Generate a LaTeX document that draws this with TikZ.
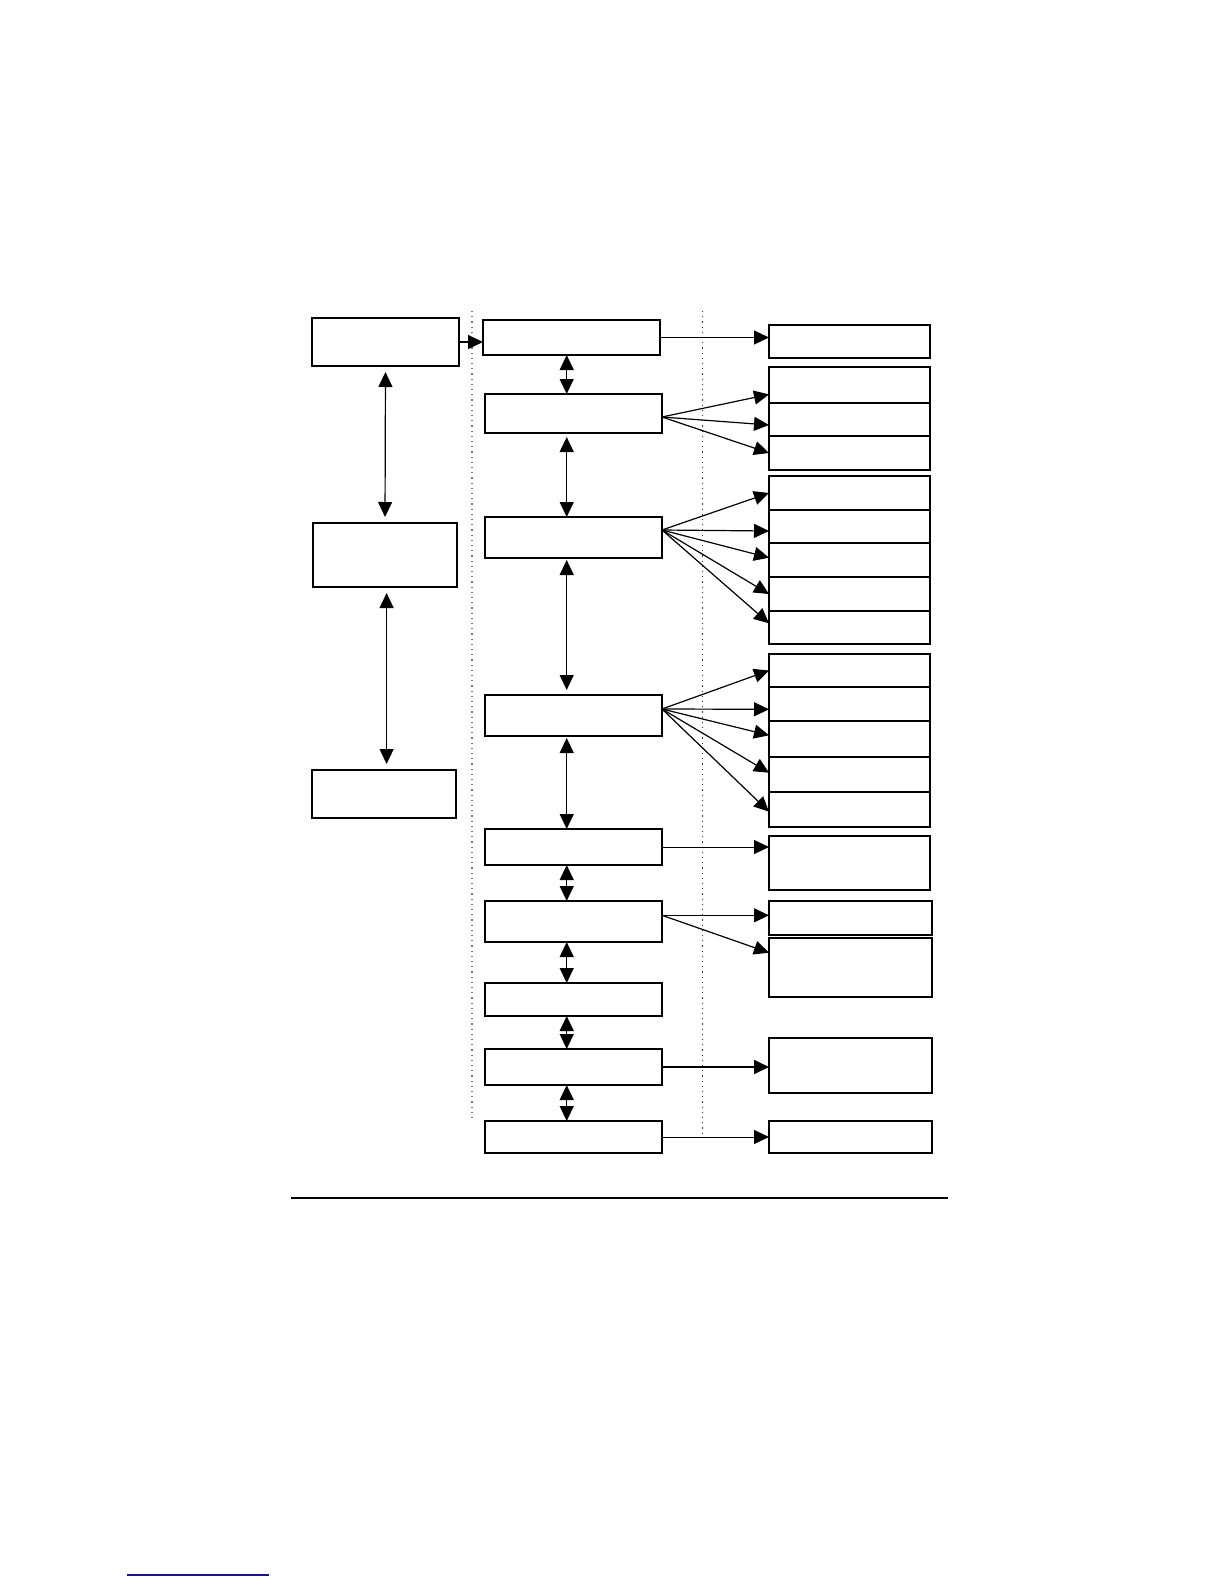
\documentclass[tikz,border=0pt]{standalone}
\usepackage{tikz}
\usetikzlibrary{arrows.meta,positioning}
\definecolor{linkblue}{RGB}{20,20,140}

\begin{document}
\begin{tikzpicture}[x=1pt,y=-1pt,box/.style={draw,line width=0.7pt,inner sep=0pt,outer sep=0pt,anchor=north west,minimum width=88.5pt},rbox/.style={draw,line width=0.9pt,inner sep=0pt,outer sep=0pt,minimum width=80.5pt},arrow/.style={-{Triangle[length=7.5pt,width=7pt]},line width=0.6pt},dbl/.style={{Triangle[length=7.5pt,width=7pt]}-{Triangle[length=7.5pt,width=7pt]},line width=0.6pt},sep/.style={dotted,line width=0.6pt}]
\useasboundingbox (0,0) rectangle (612,792);
% left column
\node[box,minimum width=73.5pt,minimum height=24pt] (l1) at (156,159) {};
\node[box,minimum width=72pt,minimum height=32pt] (l2) at (156.5,261.5) {};
\node[box,minimum width=72pt,minimum height=24pt] (l3) at (156,385) {};
% middle column
\node[box,minimum height=17.5pt] (m1) at (241.5,160) {};
\node[box,minimum height=19.5pt] (m2) at (242.5,197) {};
\node[box,minimum height=20.5pt] (m3) at (242.5,258.5) {};
\node[box,minimum height=20.5pt] (m4) at (242.5,347.5) {};
\node[box,minimum height=18pt] (m5) at (242.5,414.5) {};
\node[box,minimum height=20.5pt] (m6) at (242.5,450.5) {};
\node[box,minimum height=16.5pt] (m7) at (242.5,491.5) {};
\node[box,minimum height=18pt] (m8) at (242.5,524.5) {};
\node[box,minimum height=16pt] (m9) at (242.5,560.5) {};
% right column
\node[rbox,anchor=north west,minimum height=16.5pt] (r1) at (384.5,162.5) {};
\node[rbox,anchor=north west,minimum height=18pt] (r2a) at (384.5,183.5) {};
\node[rbox,below=0pt of r2a,minimum height=16.5pt] (r2b) {};
\node[rbox,below=0pt of r2b,minimum height=17pt] (r2c) {};
\node[rbox,anchor=north west,minimum height=17pt] (r3a) at (384.5,238) {};
\node[rbox,below=0pt of r3a,minimum height=16.5pt] (r3b) {};
\node[rbox,below=0pt of r3b,minimum height=17pt] (r3c) {};
\node[rbox,below=0pt of r3c,minimum height=17pt] (r3d) {};
\node[rbox,below=0pt of r3d,minimum height=16.5pt] (r3e) {};
\node[rbox,anchor=north west,minimum height=16.5pt] (r4a) at (384.5,327) {};
\node[rbox,below=0pt of r4a,minimum height=17pt] (r4b) {};
\node[rbox,below=0pt of r4b,minimum height=18pt] (r4c) {};
\node[rbox,below=0pt of r4c,minimum height=17.5pt] (r4d) {};
\node[rbox,below=0pt of r4d,minimum height=17.5pt] (r4e) {};
\node[rbox,anchor=north west,minimum height=27pt] (r5) at (384.5,418) {};
\node[rbox,anchor=north west,minimum width=81.5pt,minimum height=17pt] (r6a) at (384.5,450.5) {};
\node[rbox,anchor=north west,minimum width=81.5pt,minimum height=29.5pt] (r6b) at (384.5,469) {};
\node[rbox,anchor=north west,minimum width=81.5pt,minimum height=27.5pt] (r7) at (384.5,519) {};
\node[rbox,anchor=north west,minimum width=81.5pt,minimum height=16pt] (r8) at (384.5,560.5) {};
% separators
\coordinate (s1a) at (236,155.5); \coordinate (s1b) at (236,561);
\coordinate (s2a) at (351.25,155.5); \coordinate (s2b) at (351.25,567.5);
\draw[sep,black!55] (s1a) -- (s1b); \draw[sep,black!80] (s2a) -- (s2b);
% left links
\draw[arrow] (l1.east) -- (l1.east -| m1.west);
\draw[dbl,shorten <=3pt,shorten >=3pt] (l1.south) -- (l2.north);
\draw[dbl,shorten <=3pt,shorten >=3pt] ([xshift=0.8pt]l2.south) -- ([xshift=0.8pt]l2.south |- l3.north);
% middle links
\draw[dbl] ([xshift=-2.4pt]m1.south) -- ([xshift=-3.4pt]m2.north);
\draw[dbl,shorten <=2pt] ([xshift=-3.4pt]m2.south) -- ([xshift=-3.4pt]m3.north);
\draw[dbl,shorten <=1pt,shorten >=2.5pt] ([xshift=-3.4pt]m3.south) -- ([xshift=-3.4pt]m4.north);
\draw[dbl,shorten <=1pt] ([xshift=-3.4pt]m4.south) -- ([xshift=-3.4pt]m5.north);
\draw[dbl] ([xshift=-3.4pt]m5.south) -- ([xshift=-3.4pt]m6.north);
\draw[dbl] ([xshift=-3.4pt]m6.south) -- ([xshift=-3.4pt]m7.north);
\draw[dbl] ([xshift=-3.4pt]m7.south) -- ([xshift=-3.4pt]m8.north);
\draw[dbl] ([xshift=-3.4pt]m8.south) -- ([xshift=-3.4pt]m9.north);
% right links
\draw[arrow,line width=0.5pt] (m1.east) -- (m1.east -| r1.west);
\draw[arrow] ([yshift=-1.75pt]m2.east) -- ([yshift=-4.7pt]r2a.west);
\draw[arrow] ([yshift=-1.75pt]m2.east) -- ([yshift=-2.75pt]r2b.west);
\draw[arrow] ([yshift=-1.75pt]m2.east) -- (r2c.west);
\draw[arrow] ([yshift=3.75pt]m3.east) -- (r3a.west);
\draw[arrow] ([yshift=3.75pt]m3.east) -- ([yshift=-2.25pt]r3b.west);
\draw[arrow] ([yshift=3.75pt]m3.east) -- ([yshift=1.15pt]r3c.west);
\draw[arrow] ([yshift=3.75pt]m3.east) -- (r3d.west);
\draw[arrow] ([yshift=3.75pt]m3.east) -- ([yshift=2.1pt]r3e.west);
\draw[arrow] ([yshift=3.25pt]m4.east) -- (r4a.west);
\draw[arrow] ([yshift=3.25pt]m4.east) -- ([yshift=-2.65pt]r4b.west);
\draw[arrow] ([yshift=3.25pt]m4.east) -- ([yshift=1.85pt]r4c.west);
\draw[arrow] ([yshift=3.25pt]m4.east) -- ([yshift=0.9pt]r4d.west);
\draw[arrow] ([yshift=3.25pt]m4.east) -- ([yshift=-1.1pt]r4e.west);
\draw[arrow,line width=0.5pt] (m5.east) -- (m5.east -| r5.west);
\draw[arrow,line width=0.5pt] ([yshift=3.1pt]m6.east) -- ([yshift=1.35pt]r6a.west);
\draw[arrow] ([yshift=3.1pt]m6.east) -- ([yshift=7.4pt]r6b.west);
\draw[arrow,line width=0.9pt] (m8.east) -- (m8.east -| r7.west);
\draw[arrow,line width=0.5pt] (m9.east) -- (m9.east -| r8.west);
% rules below
\coordinate (ra) at (145.5,599); \coordinate (rb) at (474,599);
\draw[line width=0.75pt] (ra) -- (rb);
\coordinate (ua) at (63.3,787.5); \coordinate (ub) at (134.5,787.5);
\draw[linkblue,line width=0.6pt] (ua) -- (ub);
\end{tikzpicture}
\end{document}
